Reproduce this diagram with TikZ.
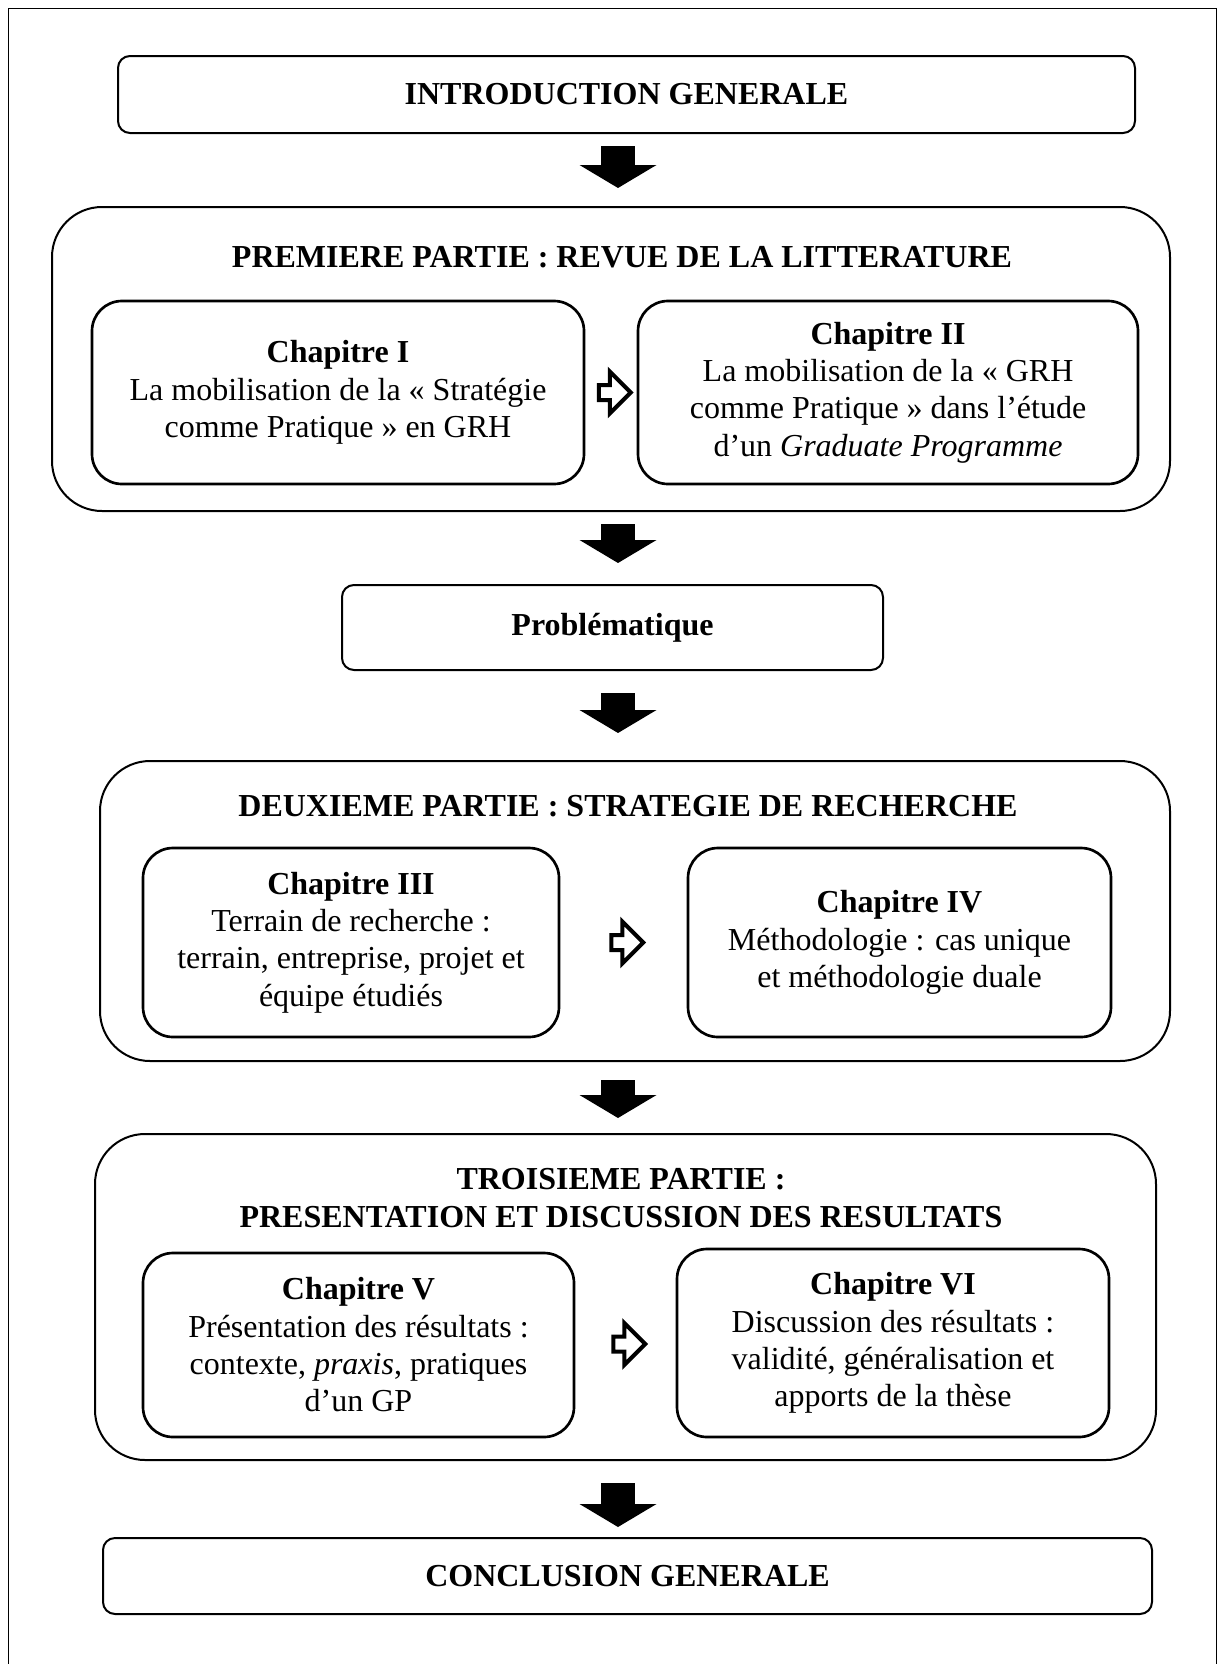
\documentclass[tikz,border=0pt]{standalone}
\usepackage{fontspec}
\setmainfont{Liberation Serif}
\usetikzlibrary{arrows.meta}
\usetikzlibrary{calc}
\usetikzlibrary{shapes.arrows}

\begin{document}
\begin{tikzpicture}[x=0.3pt,y=-0.3pt,
        every node/.style={font=\fontsize{9.6}{11.2}\selectfont, align=center, inner sep=0pt},
        smallbox/.style={draw, line width=0.6pt, rounded corners=3.6pt},
        partbox/.style={draw, line width=0.6pt, rounded corners=15pt},
        chapbox/.style={draw, line width=0.8pt, rounded corners=9pt},
        blockarrow/.style={line width=10.2pt, -{Triangle[width=22.8pt,length=6.9pt]}},
        hollowarrow/.style={draw, single arrow, line width=1.2pt, inner xsep=0pt, inner ysep=1.65pt, minimum height=9.6pt, single arrow head extend=4.05pt}]
                \useasboundingbox (0,0) rectangle (1218,1664);
                \draw[line width=0.3pt] (8,8) rectangle (1216,1680);

                \node[smallbox, minimum width=305.1pt, minimum height=23.1pt] (intro) at (626.5,94.5) {\textbf{INTRODUCTION GENERALE}};

                \node[partbox, minimum width=335.4pt, minimum height=91.2pt] (partone) at (611,359) {};
                \node (titleone) at (622,257) {\textbf{PREMIERE PARTIE : REVUE DE LA LITTERATURE}};
                \node[chapbox, minimum width=147.6pt, minimum height=54.9pt] (chone) at (338,392.5) {\textbf{Chapitre I}\\La mobilisation de la « Stratégie\\comme Pratique » en GRH};
                \node[chapbox, minimum width=150pt, minimum height=54.9pt] (chtwo) at (888,392.5) {\textbf{Chapitre II}\\La mobilisation de la « GRH\\comme Pratique » dans l’étude\\d’un \textit{Graduate Programme}};
                \node[hollowarrow] (arrone) at ($(chone.east)!0.5!(chtwo.west)$) {};

                \node[smallbox, minimum width=162.3pt, minimum height=25.5pt] (probl) at (612.5,627.5) {\textbf{Problématique}};

                \node[partbox, minimum width=321pt, minimum height=90pt] (parttwo) at (635,911) {};
                \node (titletwo) at (628,806) {\textbf{DEUXIEME PARTIE : STRATEGIE DE RECHERCHE}};
                \node[chapbox, minimum width=124.8pt, minimum height=56.7pt] (chthree) at (351,942.5) {\textbf{Chapitre III}\\Terrain de recherche :\\terrain, entreprise, projet et\\équipe étudiés};
                \node[chapbox, minimum width=126.9pt, minimum height=56.7pt] (chfour) at (899.5,942.5) {\textbf{Chapitre IV}\\Méthodologie : cas unique\\et méthodologie duale};
                \node[hollowarrow] (arrtwo) at ($(chthree.east)!0.5!(chfour.west)$) {};

                \node[partbox, minimum width=318.3pt, minimum height=97.8pt] (partthree) at (625.5,1297) {};
                \node (titlethree) at (621,1198) {\textbf{TROISIEME PARTIE :}\\\textbf{PRESENTATION ET DISCUSSION DES RESULTATS}};
                \node[chapbox, minimum width=129.3pt, minimum height=55.2pt] (chfive) at (358.5,1345) {\textbf{Chapitre V}\\Présentation des résultats :\\contexte, \textit{praxis}, pratiques\\d’un GP};
                \node[chapbox, minimum width=129.6pt, minimum height=56.4pt] (chsix) at (893,1343) {\textbf{Chapitre VI}\\Discussion des résultats :\\validité, généralisation et\\apports de la thèse};
                \node[hollowarrow] (arrthree) at ($(chfive.east)!0.5!(chsix.west)$) {};

                \node[smallbox, minimum width=314.7pt, minimum height=22.8pt] (concl) at (627.5,1576) {\textbf{CONCLUSION GENERALE}};

                \coordinate (ax) at (618,0);
                \draw[blockarrow, shorten <=3.6pt, shorten >=5.4pt] (intro.south -| ax) -- (partone.north -| ax);
                \draw[blockarrow, shorten <=3.6pt, shorten >=6.3pt] (partone.south -| ax) -- (probl.north -| ax);
                \draw[blockarrow, shorten <=6.6pt, shorten >=8.1pt] (probl.south -| ax) -- (parttwo.north -| ax);
                \draw[blockarrow, shorten <=5.4pt, shorten >=4.5pt] (parttwo.south -| ax) -- (partthree.north -| ax);
                \draw[blockarrow, shorten <=6.6pt, shorten >=3pt] (partthree.south -| ax) -- (concl.north -| ax);
            \end{tikzpicture}
\end{document}
